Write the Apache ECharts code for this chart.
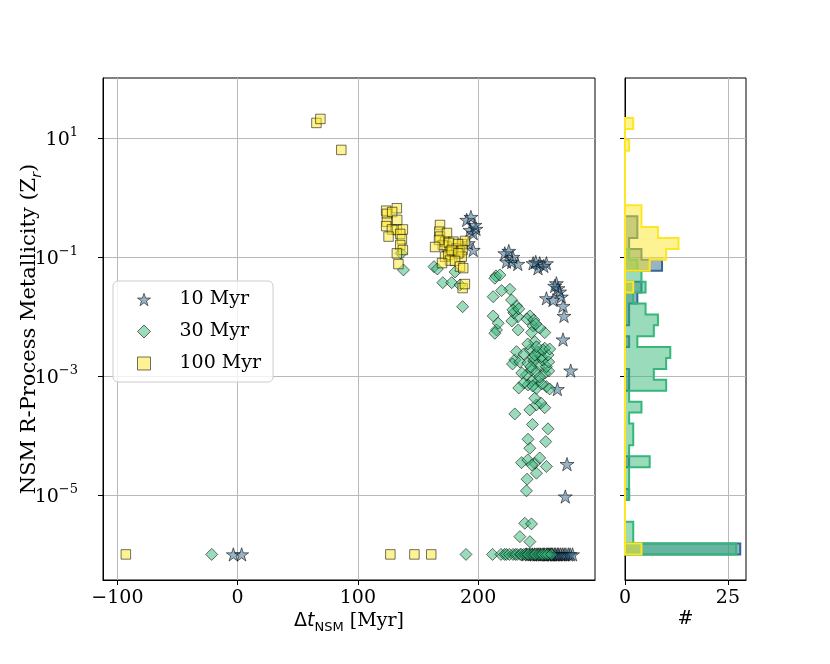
<!DOCTYPE html>
<html>
<head>
<meta charset="utf-8">
<title>NSM r-process metallicity vs delay</title>
<script src="https://cdn.jsdelivr.net/npm/echarts@6/dist/echarts.min.js"></script>
<style>
  html, body { margin: 0; padding: 0; background: #ffffff; }
  #chart { width: 830px; height: 664px; }
</style>
</head>
<body>
<div id="chart"></div>
<script>
// scatter points: [delta t_NSM (Myr), Z_r]
var tenMyr = [
  [-3.6, 1e-6], [3.3, 1e-6],
  [240, 1e-6], [243, 1e-6], [245, 1e-6], [247, 1e-6], [249, 1e-6], [250.5, 1e-6], [252, 1e-6], [254, 1e-6], [255, 1e-6], [257, 1e-6],
  [258, 1e-6], [259, 1e-6], [260, 1e-6], [261, 1e-6], [262, 1e-6], [263.5, 1e-6], [264.5, 1e-6], [266, 1e-6], [267, 1e-6], [268.5, 1e-6],
  [270, 1e-6], [271.5, 1e-6], [273, 1e-6], [275, 1e-6], [276.5, 1e-6], [278.5, 1e-6],
  [272.5, 9.4e-6], [273.9, 3.3e-5], [265.9, 6.0e-4], [277, 1.23e-3], [270.6, 4.1e-3], [271.4, 0.0102], [270.6, 0.015],
  [256.8, 0.0202], [262.3, 0.0189], [269.2, 0.0215],
  [265.1, 0.0361], [266.4, 0.0298], [267.8, 0.0261], [263.7, 0.0326],
  [223.6, 0.0834], [228, 0.0824], [233, 0.0762], [245.7, 0.0783], [251.2, 0.0783], [256.8, 0.0783], [249.8, 0.0646], [247.9, 0.0824], [254.6, 0.0706],
  [222.2, 0.115], [228.9, 0.1], [195.9, 0.131], [225.5, 0.126],
  [191.8, 0.17],
  [193.2, 0.284], [195.9, 0.25], [198.2, 0.296],
  [190.5, 0.419], [197.3, 0.345], [194, 0.47]
]

var thirtyMyr = [
  [-21.6, 1e-6], [189.9, 1e-6], [212, 1e-6],
  [219, 1e-6], [222, 1e-6], [223.5, 1e-6], [226, 1e-6], [229, 1e-6], [231, 1e-6], [232.5, 1e-6], [235, 1e-6], [236, 1e-6], [238, 1e-6],
  [239.5, 1e-6], [241, 1e-6], [242, 1e-6], [244, 1e-6], [245.5, 1e-6], [247, 1e-6], [248, 1e-6], [250, 1e-6], [251.5, 1e-6], [253, 1e-6],
  [254, 1e-6], [256, 1e-6], [258, 1e-6], [261, 1e-6],
  [234.7, 1.99e-6], [243, 1.64e-6],
  [238.8, 3.34e-6], [244.4, 3.26e-6],
  [240.2, 1.17e-5], [240.7, 1.84e-5], [248.5, 2.32e-5],
  [236.1, 3.49e-5], [247.1, 3.41e-5], [256.8, 3.01e-5], [241.3, 3.87e-5], [251.2, 4.19e-5], [244.6, 3.19e-5],
  [243, 6.1e-5], [241.5, 8.63e-5], [256.2, 7.87e-5], [245.2, 1.53e-4], [258.1, 1.29e-4], [230.5, 2.3e-4],
  [248.5, 3.26e-4], [255.4, 2.93e-4], [243, 2.68e-4], [252.1, 3.52e-4],
  [247.1, 4.22e-4],
  [249.8, 8.24e-4], [244.4, 8.24e-4], [241.5, 7.06e-4], [248.5, 6.21e-4], [256.8, 6.61e-4], [238, 7.62e-4], [252.9, 7.34e-4], [259.5, 6.05e-4], [245.4, 6.79e-4], [233.8, 6.28e-4],
  [240.2, 1.04e-3], [244.4, 1.26e-3], [248.5, 1.18e-3], [255.4, 1.11e-3], [251.2, 9.6e-4], [236.3, 1.12e-3], [258.7, 1.21e-3],
  [230.5, 1.86e-3], [228.6, 1.59e-3], [251.2, 1.53e-3], [256.8, 1.43e-3], [234.7, 1.72e-3], [241.3, 1.65e-3], [246.3, 1.79e-3], [253.7, 1.86e-3], [258.7, 1.72e-3], [243.8, 1.42e-3],
  [255.4, 2.92e-3], [231.9, 2.56e-3], [245.7, 2.05e-3], [252.7, 2.11e-3], [258.1, 2.25e-3], [243, 2.74e-3], [249.6, 2.53e-3], [238, 2.34e-3], [253.7, 2.74e-3], [247.1, 2.25e-3], [259.5, 2.84e-3],
  [247.1, 3.77e-3], [248.5, 3.1e-3], [241.3, 3.45e-3],
  [215.3, 5.93e-3], [213.9, 5.22e-3], [245.7, 6.92e-3], [233.3, 5.93e-3], [244.4, 5.35e-3], [255.4, 5.35e-3], [251.2, 6.41e-3],
  [212.5, 0.0102], [216.7, 0.00769], [243, 0.0102], [240.5, 0.00908], [246.3, 0.00873], [233, 0.00982], [247.9, 0.00748], [228, 0.0084],
  [187.1, 0.0146], [231.9, 0.015], [229.7, 0.0115], [228.9, 0.0129], [233.8, 0.0134],
  [212.5, 0.0215], [227.8, 0.0189],
  [170.6, 0.037], [178, 0.037], [184.9, 0.0338], [226.4, 0.0286], [219.5, 0.0272],
  [180.8, 0.056], [214.8, 0.048], [213.9, 0.0439], [218.1, 0.0498],
  [137.9, 0.0605], [163.3, 0.0687], [166.1, 0.0628],
  [136, 0.115]
]

var hundredMyr = [
  [-93, 1e-6], [127, 1e-6], [147, 1e-6], [161, 1e-6],
  [65.5, 17.9], [68.8, 20.9], [86.2, 6.3],
  [123.5, 0.60], [132.4, 0.66], [124.1, 0.53], [128.5, 0.57],
  [124.1, 0.39], [123.5, 0.33], [168.3, 0.345], [132.7, 0.42],
  [128.3, 0.29], [132.4, 0.284], [137.4, 0.29], [125.5, 0.22], [167.7, 0.266], [168.3, 0.22], [174.1, 0.253], [135.2, 0.244],
  [136.6, 0.198], [135.2, 0.159], [172.5, 0.181], [173.9, 0.149], [179.4, 0.181], [182.2, 0.14], [170.6, 0.159], [167.5, 0.193],
  [175.8, 0.172], [186.6, 0.165], [189.1, 0.186], [164.2, 0.147], [183.3, 0.165],
  [137.4, 0.131], [132.4, 0.115], [176.6, 0.123], [172.5, 0.101], [184.9, 0.123], [187.1, 0.131], [186.3, 0.101], [175.2, 0.108], [178, 0.131], [183.5, 0.115],
  [133.7, 0.076], [176.6, 0.087], [180.8, 0.086], [184.9, 0.069], [187.6, 0.065], [170, 0.079],
  [187.1, 0.030], [189, 0.035]
]

// histogram counts, 40 log bins from 1e-6 up to 10^1.336 (bottom bin first)
var histLogMin = -6
var histLogMax = 1.336
var histBins = 40
var tenMyrCounts = [28, 0, 0, 0, 0, 1, 0, 0, 1, 0, 0, 0, 0, 0, 0, 1, 1, 0, 0, 1,
  0, 1, 1, 3, 4, 0, 9, 4, 1, 3, 3, 0, 0, 0, 0, 0, 0, 0, 0, 0]
var thirtyMyrCounts = [27, 2, 2, 0, 0, 1, 1, 1, 6, 1, 2, 2, 1, 4, 1, 10, 7, 10, 11, 3,
  7, 8, 5, 2, 5, 4, 3, 1, 0, 0, 0, 0, 0, 0, 0, 0, 0, 0, 0, 0]
var hundredMyrCounts = [4, 0, 0, 0, 0, 0, 0, 0, 0, 0, 0, 0, 0, 0, 0, 0, 0, 0, 0, 0,
  0, 0, 0, 0, 2, 0, 6, 10, 13, 8, 4, 4, 0, 0, 0, 0, 0, 1, 0, 2]

// tick labels
var xTicks = [-100, 0, 100, 200]
var yTicks = [1e-5, 1e-3, 1e-1, 1e1]
var countTicks = [0, 25]

var SERIF = '"DejaVu Serif", serif'
var SANS = '"DejaVu Sans", sans-serif'
var STAR = 'path://M0,-1L0.2245,-0.309L0.951,-0.309L0.363,0.118L0.588,0.809L0,0.382L-0.588,0.809L-0.363,0.118L-0.951,-0.309L-0.2245,-0.309Z'
var DIAMOND = 'path://M0,-1L1,0L0,1L-1,0Z'

var binEdges = []
for (var b = 0; b <= histBins; b++) {
  binEdges.push(Math.pow(10, histLogMin + (histLogMax - histLogMin) * b / histBins))
}

var yMin = 3.715e-7
var yMax = 101.9

function expLabel(v) {
  var e = Math.round(Math.log10(v))
  return '{b|10}{s|' + (e < 0 ? '\u2212' : '') + Math.abs(e) + '}'
}

// step-filled horizontal histogram, drawn as one polygon per series
function histRenderer(counts, stroke, fill) {
  return function (params, api) {
    var pts = [api.coord([0, binEdges[0]])]
    for (var i = 0; i < counts.length; i++) {
      pts.push(api.coord([counts[i], binEdges[i]]))
      pts.push(api.coord([counts[i], binEdges[i + 1]]))
    }
    pts.push(api.coord([0, binEdges[counts.length]]))
    return {
      type: 'polygon',
      shape: { points: pts },
      style: { fill: fill, stroke: stroke, lineWidth: 2, lineJoin: 'miter' },
    }
  }
}

var gridLine = { show: true, lineStyle: { color: '#b9b9b9', width: 1 } }
var tick = { show: true, length: 5, lineStyle: { color: '#000', width: 1 } }
var axisLine = { show: true, onZero: false, lineStyle: { color: '#000', width: 1 } }
var labelRich = {
  b: { fontFamily: SERIF, fontSize: 19, color: '#000', lineHeight: 24, verticalAlign: 'bottom' },
  s: { fontFamily: SERIF, fontSize: 13, color: '#000', lineHeight: 12, verticalAlign: 'top' },
}

var colors = {
  ten: { line: '#31688e', fill: 'rgba(49,104,142,0.5)' },
  thirty: { line: '#35b779', fill: 'rgba(53,183,121,0.5)' },
  hundred: { line: '#fde725', fill: 'rgba(253,231,37,0.5)' },
}
var markerEdge = 'rgba(0,0,0,0.55)'

var option = {
  animation: false,
  backgroundColor: '#ffffff',
  grid: [
    { left: 103, top: 78, width: 492, height: 502, show: true, borderColor: '#000', borderWidth: 1, outerBoundsMode: 'none' },
    { left: 625, top: 78, width: 121, height: 502, show: true, borderColor: '#000', borderWidth: 1, outerBoundsMode: 'none' },
  ],
  legend: {
    orient: 'vertical',
    left: 113,
    top: 281,
    data: [
      { name: '10 Myr', icon: STAR },
      { name: '30 Myr', icon: DIAMOND },
      { name: '100 Myr', icon: 'rect' },
    ],
    itemWidth: 13,
    itemHeight: 13,
    itemGap: 13,
    itemStyle: { borderWidth: 1 },
    padding: [9, 12, 9, 24],
    textStyle: { fontFamily: SERIF, fontSize: 19, color: '#000', padding: [0, 0, 0, 24] },
    backgroundColor: 'rgba(255,255,255,0.8)',
    borderColor: '#cccccc',
    borderWidth: 1,
    borderRadius: 5,
  },
  xAxis: [
    {
      gridIndex: 0,
      type: 'value',
      min: -112,
      max: 297.2,
      axisLine: axisLine,
      axisTick: Object.assign({ customValues: xTicks }, tick),
      axisLabel: {
        customValues: xTicks,
        fontFamily: SERIF,
        fontSize: 19,
        color: '#000',
        margin: 9,
        formatter: function (v) { return v < 0 ? '\u2212' + Math.abs(v) : String(v) },
      },
      splitLine: gridLine,
      name: '{d|\u0394}{t|t}{s|NSM}{a| [Myr]}',
      nameLocation: 'middle',
      nameGap: 28,
      nameMoveOverlap: false,
      nameTextStyle: {
        rich: {
          d: { fontFamily: SANS, fontSize: 19, color: '#000', lineHeight: 26 },
          t: { fontFamily: SANS, fontStyle: 'italic', fontSize: 19, color: '#000', lineHeight: 26 },
          s: { fontFamily: SANS, fontSize: 13, color: '#000', lineHeight: 16, verticalAlign: 'bottom' },
          a: { fontFamily: SERIF, fontSize: 19, color: '#000', lineHeight: 26 },
        },
      },
    },
    {
      gridIndex: 1,
      type: 'value',
      min: 0,
      max: 29.4,
      axisLine: axisLine,
      axisTick: Object.assign({ customValues: countTicks }, tick),
      axisLabel: { customValues: countTicks, fontFamily: SERIF, fontSize: 19, color: '#000', margin: 9 },
      splitLine: gridLine,
      name: '#',
      nameLocation: 'middle',
      nameGap: 30,
      nameMoveOverlap: false,
      nameTextStyle: { fontFamily: SERIF, fontSize: 19, color: '#000' },
    },
  ],
  yAxis: [
    {
      gridIndex: 0,
      type: 'log',
      logBase: 10,
      min: yMin,
      max: yMax,
      axisLine: axisLine,
      axisTick: Object.assign({ customValues: yTicks }, tick),
      axisLabel: { customValues: yTicks, margin: 25, formatter: expLabel, rich: labelRich },
      splitLine: gridLine,
      name: '{a|NSM R-Process Metallicity (Z}{r|r}{a|)}',
      nameLocation: 'middle',
      nameGap: 59,
      nameMoveOverlap: false,
      nameTextStyle: {
        rich: {
          a: { fontFamily: SERIF, fontSize: 21, color: '#000', lineHeight: 28 },
          r: { fontFamily: SANS, fontStyle: 'italic', fontSize: 14, color: '#000', lineHeight: 17, verticalAlign: 'bottom' },
        },
      },
    },
    {
      gridIndex: 1,
      type: 'log',
      logBase: 10,
      min: yMin,
      max: yMax,
      axisLine: axisLine,
      axisTick: Object.assign({ customValues: yTicks }, tick),
      axisLabel: { show: false },
      splitLine: gridLine,
    },
  ],
  series: [
    {
      name: '10 Myr', type: 'scatter', xAxisIndex: 0, yAxisIndex: 0, data: tenMyr,
      symbol: STAR, symbolSize: 14, symbolKeepAspect: true, silent: true,
      itemStyle: { color: colors.ten.fill, borderColor: markerEdge, borderWidth: 1, opacity: 1 },
      z: 3,
    },
    {
      name: '30 Myr', type: 'scatter', xAxisIndex: 0, yAxisIndex: 0, data: thirtyMyr,
      symbol: DIAMOND, symbolSize: 12, silent: true,
      itemStyle: { color: colors.thirty.fill, borderColor: markerEdge, borderWidth: 1, opacity: 1 },
      z: 4,
    },
    {
      name: '100 Myr', type: 'scatter', xAxisIndex: 0, yAxisIndex: 0, data: hundredMyr,
      symbol: 'rect', symbolSize: 9.5, silent: true,
      itemStyle: { color: colors.hundred.fill, borderColor: markerEdge, borderWidth: 1, opacity: 1 },
      z: 5,
    },
    {
      name: 'hist 10', type: 'custom', xAxisIndex: 1, yAxisIndex: 1, silent: true, z: 3,
      data: [[1, 1]],
      renderItem: histRenderer(tenMyrCounts, colors.ten.line, colors.ten.fill),
    },
    {
      name: 'hist 30', type: 'custom', xAxisIndex: 1, yAxisIndex: 1, silent: true, z: 4,
      data: [[1, 1]],
      renderItem: histRenderer(thirtyMyrCounts, colors.thirty.line, colors.thirty.fill),
    },
    {
      name: 'hist 100', type: 'custom', xAxisIndex: 1, yAxisIndex: 1, silent: true, z: 5,
      data: [[1, 1]],
      renderItem: histRenderer(hundredMyrCounts, colors.hundred.line, colors.hundred.fill),
    },
  ],
}

var chart = echarts.init(document.getElementById('chart'))
chart.setOption(option)
window.addEventListener('resize', chart.resize)
</script>
</body>
</html>
